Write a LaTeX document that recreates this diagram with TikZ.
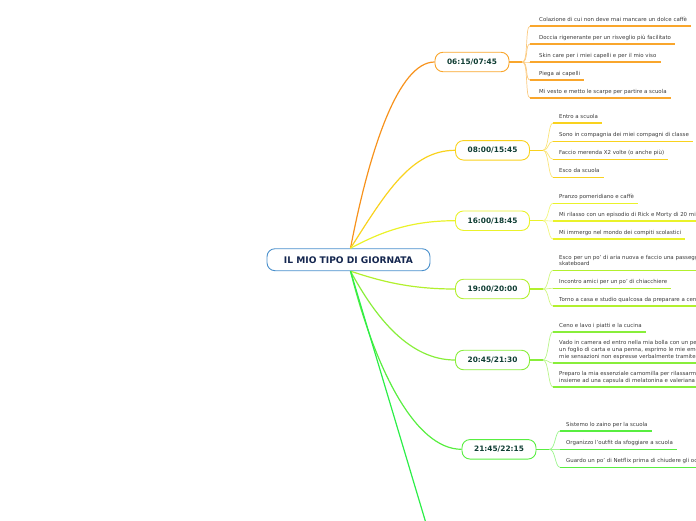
\documentclass[tikz,border=0pt]{standalone}
\usepackage{fontspec}
\setmainfont{DejaVu Sans}
\definecolor{cblue}{HTML}{4A90CC}
\definecolor{cnavy}{HTML}{14264F}
\definecolor{bgreen}{HTML}{0F3D33}
\definecolor{lgray}{HTML}{3A3A3A}
\definecolor{c1}{HTML}{F9A62C}
\definecolor{m1}{HTML}{F7921C}
\definecolor{c2}{HTML}{F9D21E}
\definecolor{c3}{HTML}{EAF22A}
\definecolor{c4}{HTML}{B2F02E}
\definecolor{c5}{HTML}{88EE3A}
\definecolor{c6}{HTML}{58EE40}
\definecolor{c7}{HTML}{2CEE48}
\begin{document}
\begin{tikzpicture}[x=1pt,y=-1pt,
 central/.style={draw=cblue, line width=0.9pt, rounded corners=8pt, fill=white, minimum width=163pt, minimum height=22pt, inner sep=0pt, font=\bfseries\fontsize{9.1}{10}\selectfont, text=cnavy},
 branch/.style={draw=#1, line width=0.9pt, rounded corners=8pt, fill=white, minimum width=74pt, minimum height=19.5pt, inner sep=0pt, font=\bfseries\fontsize{7.4}{8}\selectfont, text=bgreen},
 leaf/.style={anchor=south west, inner xsep=0pt, inner ysep=3pt, text depth=1.3pt, font=\fontsize{5.45}{6.8}\selectfont, text=lgray, align=left},
 uline/.style={draw=#1, line width=1.6pt},
 lcurve/.style={draw=#1!60, line width=0.7pt},
 stem/.style={draw=#1, line width=1.5pt},
 mainline/.style={draw=#1, line width=1.2pt}]
\useasboundingbox (0,0) rectangle (696,520);
\begin{scope}
\clip (0,0) rectangle (696,520);

% central node and branches
\node[central] (c) at (348.5,259.7) {IL MIO TIPO DI GIORNATA};
\node[branch=c1] (b1) at (472,62) {06:15/07:45};
\node[branch=c2] (b2) at (492.5,150.3) {08:00/15:45};
\node[branch=c3] (b3) at (492.5,220.7) {16:00/18:45};
\node[branch=c4] (b4) at (492.5,289) {19:00/20:00};
\node[branch=c5] (b5) at (492.5,360) {20:45/21:30};
\node[branch=c6] (b6) at (499,449.3) {21:45/22:15};
\coordinate (e7) at (437,560);

% main connectors
\draw[mainline=m1] ([xshift=2pt]c.north) .. controls +(19,-99) and +(-36,0) .. (b1.west);
\draw[mainline=c2] ([xshift=2pt]c.north) .. controls +(35,-55) and +(-44,0) .. (b2.west);
\draw[mainline=c3] ([xshift=2pt]c.north) .. controls +(30,-16) and +(-45,0) .. (b3.west);
\draw[mainline=c4] ([xshift=2pt]c.south) .. controls +(30,10) and +(-45,0) .. (b4.west);
\draw[mainline=c5] ([xshift=2pt]c.south) .. controls +(26,48) and +(-45,0) .. (b5.west);
\draw[mainline=c6] ([xshift=2pt]c.south) .. controls +(24,96) and +(-47,0) .. (b6.west);
\draw[mainline=c7] ([xshift=2pt]c.south) -- (e7);

% branch 1
\coordinate (f1) at ([xshift=13pt]b1.east);
\draw[stem=c1] (b1.east) -- (f1);
\node[leaf] (l11) at (539,26) {Colazione di cui non deve mai mancare un dolce caffè};
\node[leaf] (l12) at (539,44) {Doccia rigenerante per un risveglio più facilitato};
\node[leaf] (l13) at (539,62) {Skin care per i miei capelli e per il mio viso};
\node[leaf] (l14) at (539,80) {Piega ai capelli};
\node[leaf] (l15) at (539,98) {Mi vesto e metto le scarpe per partire a scuola};
\foreach \l in {l11,l12,l13,l14,l15}{
  \draw[lcurve=c1] (f1) .. controls +(6,0) and +(-5,0) .. ([xshift=-9pt]\l.south west);
  \draw[uline=c1] ([xshift=-9pt]\l.south west) -- ([xshift=4pt]\l.south east);
}

% branch 2
\coordinate (f2) at ([xshift=13pt]b2.east);
\draw[stem=c2] (b2.east) -- (f2);
\node[leaf] (l21) at (559,123) {Entro a scuola};
\node[leaf] (l22) at (559,141.3) {Sono in compagnia dei miei compagni di classe};
\node[leaf] (l23) at (559,159.3) {Faccio merenda X2 volte (o anche più)};
\node[leaf] (l24) at (559,177.3) {Esco da scuola};
\foreach \l in {l21,l22,l23,l24}{
  \draw[lcurve=c2] (f2) .. controls +(6,0) and +(-5,0) .. ([xshift=-6pt]\l.south west);
  \draw[uline=c2] ([xshift=-6pt]\l.south west) -- ([xshift=4pt]\l.south east);
}

% branch 3
\coordinate (f3) at ([xshift=13pt]b3.east);
\draw[stem=c3] (b3.east) -- (f3);
\node[leaf] (l31) at (559,203.3) {Pranzo pomeridiano e caffè};
\node[leaf] (l32) at (559,221) {Mi rilasso con un episodio di Rick e Morty di 20 minuti};
\node[leaf] (l33) at (559,239) {Mi immergo nel mondo dei compiti scolastici};
\foreach \l in {l31,l32,l33}{
  \draw[lcurve=c3] (f3) .. controls +(6,0) and +(-5,0) .. ([xshift=-6pt]\l.south west);
  \draw[uline=c3] ([xshift=-6pt]\l.south west) -- ([xshift=4pt]\l.south east);
}

% branch 4
\coordinate (f4) at ([xshift=13pt]b4.east);
\draw[stem=c4] (b4.east) -- (f4);
\node[leaf] (l41) at (559,270.3) {Esco per un po' di aria nuova e faccio una passeggiata in\\skateboard};
\node[leaf] (l42) at (559,288.3) {Incontro amici per un po' di chiacchiere};
\node[leaf] (l43) at (559,306) {Torno a casa e studio qualcosa da preparare a cena};
\foreach \l in {l41,l42,l43}{
  \draw[lcurve=c4] (f4) .. controls +(6,0) and +(-5,0) .. ([xshift=-6pt]\l.south west);
  \draw[uline=c4] ([xshift=-6pt]\l.south west) -- ([xshift=4pt]\l.south east);
}

% branch 5
\coordinate (f5) at ([xshift=13pt]b5.east);
\draw[stem=c5] (b5.east) -- (f5);
\node[leaf] (l51) at (559,331.7) {Ceno e lavo i piatti e la cucina};
\node[leaf] (l52) at (559,363) {Vado in camera ed entro nella mia bolla con un pensiero:\\un foglio di carta e una penna, esprimo le mie emozioni e le\\mie sensazioni non espresse verbalmente tramite la scrittura};
\node[leaf] (l53) at (559,387) {Preparo la mia essenziale camomilla per rilassarmi\\insieme ad una capsula di melatonina e valeriana};
\foreach \l in {l51,l52,l53}{
  \draw[lcurve=c5] (f5) .. controls +(6,0) and +(-5,0) .. ([xshift=-6pt]\l.south west);
  \draw[uline=c5] ([xshift=-6pt]\l.south west) -- ([xshift=4pt]\l.south east);
}

% branch 6
\coordinate (f6) at ([xshift=13pt]b6.east);
\draw[stem=c6] (b6.east) -- (f6);
\node[leaf] (l61) at (566,431) {Sistemo lo zaino per la scuola};
\node[leaf] (l62) at (566,449.3) {Organizzo l'outfit da sfoggiare a scuola};
\node[leaf] (l63) at (566,467.3) {Guardo un po' di Netflix prima di chiudere gli occhi};
\foreach \l in {l61,l62,l63}{
  \draw[lcurve=c6] (f6) .. controls +(6,0) and +(-5,0) .. ([xshift=-6pt]\l.south west);
  \draw[uline=c6] ([xshift=-6pt]\l.south west) -- ([xshift=4pt]\l.south east);
}
\end{scope}
\end{tikzpicture}
\end{document}
